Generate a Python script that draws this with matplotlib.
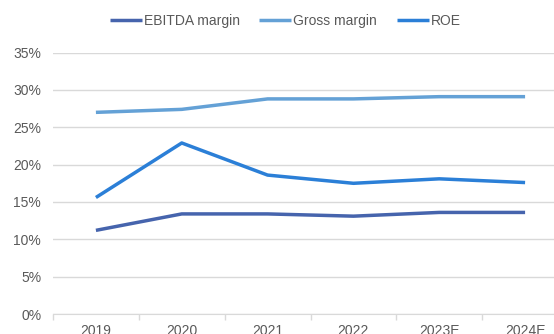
import matplotlib.pyplot as plt
import numpy as np

plt.rcParams['font.family'] = ['Liberation Sans', 'DejaVu Sans']

# Données
annees = ["2019", "2020", "2021", "2022", "2023E", "2024E"]
ebitda_margin = [11.2, 13.4, 13.4, 13.1, 13.6, 13.6]
gross_margin = [27.0, 27.4, 28.8, 28.8, 29.1, 29.1]
roe = [15.6, 22.9, 18.6, 17.5, 18.1, 17.6]

gris_texte = "#595959"
gris_grille = "#D9D9D9"

fig = plt.figure(figsize=(5.54, 3.34), dpi=100)
# axe volontairement plus large que la figure (dernière catégorie coupée à droite)
ax = fig.add_axes([53 / 554, 20 / 334, 515 / 554, 261.4 / 334])

x = np.arange(len(annees))
ax.plot(x, ebitda_margin, color="#4664AD", lw=2.5, label="EBITDA margin", solid_capstyle="butt")
ax.plot(x, gross_margin, color="#64A1D6", lw=2.5, label="Gross margin", solid_capstyle="butt")
ax.plot(x, roe, color="#2B7FD7", lw=2.5, label="ROE", solid_capstyle="butt")

ax.set_xlim(-0.5, len(annees) - 0.5)
ax.set_ylim(0, 35)
ax.set_yticks(range(0, 40, 5))
ax.set_yticklabels([f"{v}%" for v in range(0, 40, 5)])
ax.yaxis.grid(True, color=gris_grille, lw=1)
ax.set_axisbelow(True)

ax.set_xticks(x)
ax.set_xticklabels(annees)
ax.set_xticks(np.arange(-0.5, len(annees)), minor=True)
ax.tick_params(axis="x", which="major", length=0, pad=7, labelsize=10, labelcolor=gris_texte)
ax.tick_params(axis="x", which="minor", length=4, color=gris_grille, width=1)
ax.tick_params(axis="y", length=0, pad=8.5, labelsize=10, labelcolor=gris_texte)

for side in ["top", "right", "left"]:
    ax.spines[side].set_visible(False)
ax.spines["bottom"].set_color(gris_grille)

fig.legend(loc="center", bbox_to_anchor=(0.515, 1 - 21 / 334), ncol=3, frameon=False,
           fontsize=10, labelcolor=gris_texte, handlelength=2.3, handletextpad=0.15,
           columnspacing=1.4)

plt.savefig("out.png", dpi=100)
